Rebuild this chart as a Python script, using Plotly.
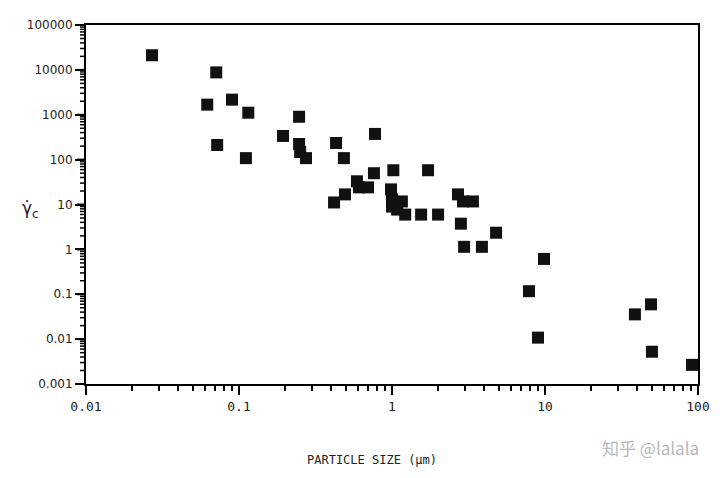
import plotly.graph_objects as go

# particle size (um) and critical value
particle_size = [0.027, 0.071, 0.062, 0.090, 0.115, 0.072, 0.111, 0.194, 0.247, 0.247,
                 0.251, 0.274, 0.431, 0.485, 0.774, 1.02, 1.72, 0.762, 0.590, 0.697,
                 0.608, 0.493, 0.418, 0.985, 1.00, 1.00, 1.16, 1.08, 1.22, 1.55,
                 2.00, 2.70, 2.91, 3.38, 2.82, 4.79, 2.96, 3.87, 9.85, 7.86,
                 49.3, 38.7, 9.0, 50.0, 91.4]
gamma_c = [21200, 8790, 1680, 2170, 1110, 212, 108, 337, 902, 223,
           148, 108, 235, 108, 374, 58, 58, 49.8, 32.9, 24.1,
           24.1, 16.8, 11.1, 21.7, 12.9, 9.0, 11.7, 7.7, 5.96, 5.96,
           5.96, 16.8, 11.7, 11.7, 3.74, 2.35, 1.14, 1.14, 0.612, 0.117,
           0.0596, 0.0356, 0.0108, 0.00524, 0.00267]

x_tickvals = [0.01, 0.1, 1, 10, 100]
x_ticktext = ["0.01", "0.1", "1", "10", "100"]
y_tickvals = [0.001, 0.01, 0.1, 1, 10, 100, 1000, 10000, 100000]
y_ticktext = ["0.001", "0.01", "0.1", "1", "10", "100", "1000", "10000", "100000"]

PLOT_W = 712 - 78 - 22
PLOT_H = 470 - 17 - 94


def minor_ticks(decades):
    # 2..9 inside every decade
    return [m * 10.0 ** e for e in decades for m in range(2, 10)]


fig = go.Figure()

fig.add_trace(go.Scatter(
    x=particle_size,
    y=gamma_c,
    mode='markers',
    marker=dict(symbol='square', size=12, color='#111111'),
    showlegend=False
))

# empty trace so the overlay axis (x minor ticks) gets drawn
fig.add_trace(go.Scatter(x=[], y=[], xaxis='x2', yaxis='y2', mode='markers',
                         hoverinfo='skip', showlegend=False))

axis_common = dict(
    type='log',
    automargin=False,
    showgrid=False,
    zeroline=False,
    ticks='outside',
    tickcolor='black',
)

fig.update_layout(
    xaxis=dict(
        **axis_common,
        range=[-2, 2],
        showline=True, linecolor='black', linewidth=2, mirror=True,
        tickmode='array', tickvals=x_tickvals, ticktext=x_ticktext,
        ticklen=9, tickwidth=2,
        tickfont=dict(family='DejaVu Sans Mono', size=13, color='#222222'),
    ),
    yaxis=dict(
        **axis_common,
        range=[-3, 5],
        showline=True, linecolor='black', linewidth=2, mirror=True,
        tickmode='array', tickvals=y_tickvals, ticktext=y_ticktext,
        ticklen=9, tickwidth=2,
        tickfont=dict(family='DejaVu Sans', size=12, color='#222222'),
    ),
    xaxis2=dict(
        **axis_common,
        range=[-2, 2], overlaying='x', anchor='y2', side='bottom',
        showline=False, showticklabels=False,
        tickmode='array', tickvals=minor_ticks(range(-2, 2)),
        ticklen=6, tickwidth=1.5,
    ),
    yaxis2=dict(
        type='log', range=[-3, 5], overlaying='y', anchor='x2', side='left',
        automargin=False, showline=False, showticklabels=False,
        showgrid=False, zeroline=False, ticks='',
    ),
)

# tick marks on the left axis and major ticks on the bottom axis, as short lines
tick_shapes = []
for v in y_tickvals:
    tick_shapes.append(dict(type='line', xref='paper', yref='y',
                            x0=-9 / PLOT_W, x1=0, y0=v, y1=v,
                            line=dict(color='black', width=2)))
for v in minor_ticks(range(-3, 5)):
    tick_shapes.append(dict(type='line', xref='paper', yref='y',
                            x0=-6 / PLOT_W, x1=0, y0=v, y1=v,
                            line=dict(color='black', width=1.5)))
for v in x_tickvals:
    tick_shapes.append(dict(type='line', xref='x', yref='paper',
                            x0=v, x1=v, y0=-9 / PLOT_H, y1=0,
                            line=dict(color='black', width=2)))
fig.update_layout(shapes=tick_shapes)

fig.add_annotation(
    text='PARTICLE SIZE (μm)', xref='paper', yref='paper',
    x=0.468, y=-0.212, xanchor='center', yanchor='middle', showarrow=False,
    font=dict(family='DejaVu Sans Mono', size=12, color='#222222')
)
fig.add_annotation(
    text='γ̇<sub>c</sub>', xref='paper', yref='paper',
    x=-0.09, y=0.485, xanchor='center', yanchor='middle', showarrow=False,
    font=dict(family='DejaVu Sans', size=17, color='#222222')
)
fig.add_annotation(
    text='知乎 @lalala', xref='paper', yref='paper',
    x=1.005, y=-0.178, xanchor='right', yanchor='middle', showarrow=False,
    font=dict(family='Noto Sans CJK SC', size=17, color='#b8b8b8')
)

# the page body adds an 8px offset, so the figure is sized to fit inside the window
fig.update_layout(
    width=712, height=470,
    margin=dict(l=78, r=22, t=17, b=94),
    paper_bgcolor='white',
    plot_bgcolor='white',
)

fig.write_html("out.html")
